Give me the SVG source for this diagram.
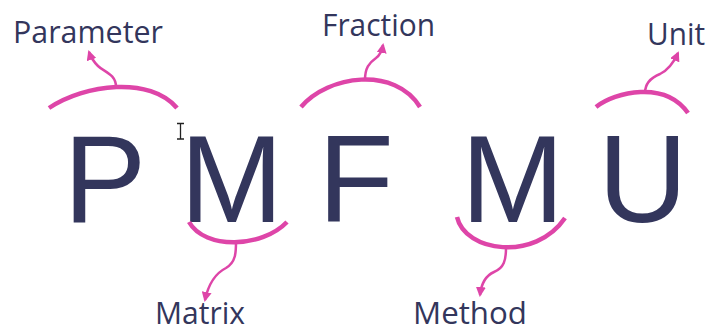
<svg xmlns="http://www.w3.org/2000/svg" width="708" height="329" viewBox="0 0 708 329">
<style>
.big{font-family:"Liberation Sans",Arial,sans-serif;font-size:124px;fill:#33365C}
.lbl{font-family:"Open Sans","Noto Sans",sans-serif;font-size:31px;fill:#33365C}
.arc{fill:none;stroke:#DE45A8;stroke-width:4.5;stroke-linecap:butt}
.hook{fill:none;stroke:#DE45A8;stroke-width:2.5}
</style>
<defs>
<marker id="ah" viewBox="0 0 10 10" refX="8" refY="5" markerWidth="4" markerHeight="4" orient="auto" markerUnits="strokeWidth">
<path d="M0,0 L10,5 L0,10 Z" fill="#DE45A8"/>
</marker>
</defs>
<rect width="708" height="329" fill="#ffffff"/>
<g id="letters">
<text id="P" class="big" x="63.5" y="222">P</text>
<text id="M1" class="big" x="180" y="222">M</text>
<text id="F" class="big" x="318" y="222">F</text>
<text id="M2" class="big" x="461" y="222">M</text>
<text id="U" class="big" x="598" y="222">U</text>
</g>
<g id="labels">
<text id="parameter" class="lbl" x="13" y="43" textLength="150" lengthAdjust="spacingAndGlyphs">Parameter</text>
<text id="fraction" class="lbl" x="322" y="36" textLength="113" lengthAdjust="spacingAndGlyphs">Fraction</text>
<text id="unit" class="lbl" x="647" y="45" textLength="58" lengthAdjust="spacingAndGlyphs">Unit</text>
<text id="matrix" class="lbl" x="155" y="324" textLength="90" lengthAdjust="spacingAndGlyphs">Matrix</text>
<text id="method" class="lbl" x="413" y="324" textLength="114" lengthAdjust="spacingAndGlyphs">Method</text>
</g>
<g id="connectors">
<path class="arc" d="M49,108 C85,84 150,76 177,108"/>
<path class="hook" marker-end="url(#ah)" d="M116,87 C116,74 104,72 98,66 C94,62 91,58 89,52"/>
<path class="arc" d="M301,107 C328,75 395,66 420,107"/>
<path class="hook" marker-end="url(#ah)" d="M365,80 C365,68 369,63 376,58 C380,55 382,51 383,45"/>
<path class="arc" d="M596,107 C615,92 665,80 688,113"/>
<path class="hook" marker-end="url(#ah)" d="M645,93 C645,84 650,78 660,74 C668,70 674,62 678,53"/>
<path class="arc" d="M189,222 C205,250 262,248 287,222"/>
<path class="hook" marker-end="url(#ah)" d="M236,242 C236,252 236,262 226,268 C214,274 208,286 205,300"/>
<path class="arc" d="M457,217 C465,252 535,262 565,218"/>
<path class="hook" marker-end="url(#ah)" d="M506,248 C506,260 504,268 494,272 C485,276 481,286 480,295"/>
</g>
<g id="cursor" stroke="#222" stroke-width="1.3" fill="none">
<path d="M180.5,123.5 V139 M177,123.5 H184 M177,139 H184"/>
</g>
</svg>
